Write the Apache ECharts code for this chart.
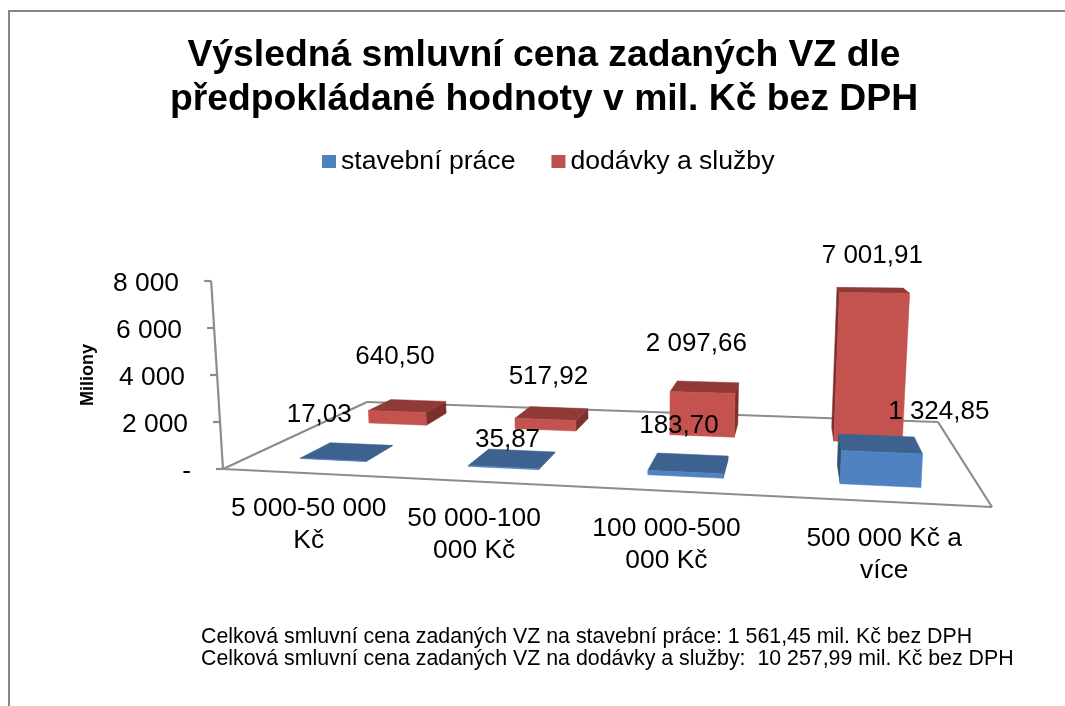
<!DOCTYPE html>
<html>
<head>
<meta charset="utf-8">
<style>html,body{margin:0;padding:0;background:#fff}#main{width:1065px;height:706px}</style>
<script src="https://cdn.jsdelivr.net/npm/echarts@6/dist/echarts.min.js"></script>
</head>
<body>
<div id="main"></div>
<script>
var titleText = 'Výsledná smluvní cena zadaných VZ dle\npředpokládané hodnoty v mil. Kč bez DPH';
var categories = ['5 000-50 000\nKč', '50 000-100\n000 Kč', '100 000-500\n000 Kč', '500 000 Kč a\nvíce'];
var stavebniPrace = [17.03, 35.87, 183.70, 1324.85];
var dodavkySluzby = [640.50, 517.92, 2097.66, 7001.91];
var stavebniLabels = ['17,03', '35,87', '183,70', '1 324,85'];
var dodavkyLabels = ['640,50', '517,92', '2 097,66', '7 001,91'];
var tickLabels = ['-', '2 000', '4 000', '6 000', '8 000'];
var footerLines = [
  'Celková smluvní cena zadaných VZ na stavební práce: 1 561,45 mil. Kč bez DPH',
  'Celková smluvní cena zadaných VZ na dodávky a služby:  10 257,99 mil. Kč bez DPH'
];

// podlaha grafu v perspektive: predni levy, predni pravy, zadni pravy, zadni levy roh
var FLOOR = [[223, 469], [992, 507], [938, 422], [367, 402]];
var FONT = '"Liberation Sans", Arial, sans-serif';
var LINE = '#8c8c8c';

// prevod (s,t) ze ctverce 0..1 na podlahu
var H = (function () {
  var p = FLOOR;
  var dx1 = p[1][0] - p[2][0], dx2 = p[3][0] - p[2][0], sx = p[0][0] - p[1][0] + p[2][0] - p[3][0];
  var dy1 = p[1][1] - p[2][1], dy2 = p[3][1] - p[2][1], sy = p[0][1] - p[1][1] + p[2][1] - p[3][1];
  var d = dx1 * dy2 - dx2 * dy1;
  var g = (sx * dy2 - dx2 * sy) / d, h = (dx1 * sy - sx * dy1) / d;
  return {
    a: p[1][0] - p[0][0] + g * p[1][0], b: p[3][0] - p[0][0] + h * p[3][0], c: p[0][0],
    d: p[1][1] - p[0][1] + g * p[1][1], e: p[3][1] - p[0][1] + h * p[3][1], f: p[0][1],
    g: g, h: h
  };
})();

function project(s, t) {
  var w = H.g * s + H.h * t + 1;
  return [(H.a * s + H.b * t + H.c) / w, (H.d * s + H.e * t + H.f) / w];
}

// svisle hrany se s vyskou rozbihaji a dozadu se zkracuji
function lean(s) { return -0.063 + 0.122 * s; }

function lift(s, t, h) {
  var p = project(s, t);
  var k = h / (H.g * s + H.h * t + 1);
  return [p[0] + lean(s) * k, p[1] - k];
}

function quad(points, color) {
  return { type: 'polygon', shape: { points: points }, style: { fill: color, stroke: color, lineWidth: 0.5 } };
}

function segment(a, b) {
  return { type: 'line', shape: { x1: a[0], y1: a[1], x2: b[0], y2: b[1] }, style: { stroke: LINE, lineWidth: 2.2 } };
}

function frameItem(params, api) {
  var children = [
    segment(FLOOR[0], FLOOR[1]), segment(FLOOR[1], FLOOR[2]),
    segment(FLOOR[2], FLOOR[3]), segment(FLOOR[3], FLOOR[0])
  ];
  var zero = api.coord([0, 0])[1];
  var top = lift(0, 0, zero - api.coord([0, 8000])[1]);
  children.push(segment(FLOOR[0], top));
  for (var v = 0; v <= 8000; v += 2000) {
    var q = lift(0, 0, zero - api.coord([0, v])[1]);
    children.push(segment([q[0] - 7, q[1]], q));
  }
  return { type: 'group', children: children };
}

var categoryLabelShift = [[1, 42], [-12, 43], [-11, 43], [1, 43]];

function categoryItem(params, api) {
  var i = api.value(0);
  var p = project((i + 0.5) / 4, 0);
  var d = categoryLabelShift[i];
  return {
    type: 'text',
    style: {
      x: p[0] + d[0], y: p[1] + d[1] - 22,
      text: categories[i], fill: '#000', font: '26.4px ' + FONT,
      textAlign: 'center', textVerticalAlign: 'top', lineHeight: 32
    }
  };
}

function boxRenderer(box, labels, shift) {
  return function (params, api) {
    var i = api.value(0);
    var h = api.coord([i, 0])[1] - api.coord([i, api.value(1)])[1];
    var s0 = box.start + box.step * i, s1 = s0 + box.width;
    var fl = lift(s0, box.front, 0), fr = lift(s1, box.front, 0);
    var tfl = lift(s0, box.front, h), tfr = lift(s1, box.front, h);
    var tbl = lift(s0, box.back, h), tbr = lift(s1, box.back, h);
    var bl = lift(s0, box.back, 0), br = lift(s1, box.back, 0);
    var children = [];
    if (tbr[0] > tfr[0]) children.push(quad([fr, br, tbr, tfr], box.side));
    if (tbl[0] < tfl[0]) children.push(quad([fl, bl, tbl, tfl], box.side));
    children.push(quad([tfl, tfr, tbr, tbl], box.top));
    children.push(quad([fl, fr, tfr, tfl], box.face));
    var d = shift[i];
    children.push({
      type: 'text', z2: 10,
      style: {
        x: (tfl[0] + tbr[0]) / 2 + d[0], y: (tfl[1] + tbr[1]) / 2 + d[1],
        text: labels[i], fill: '#000', font: '26px ' + FONT,
        textAlign: 'center', textVerticalAlign: 'middle'
      }
    });
    return { type: 'group', children: children };
  };
}

var redBox = { start: 0.077, step: 0.25, width: 0.1, front: 0.65, back: 0.85, face: '#c4524f', top: '#8f3a37', side: '#7c2f2d' };
var blueBox = { start: 0.077, step: 0.25, width: 0.1, front: 0.15, back: 0.35, face: '#4f82c1', top: '#3d628f', side: '#2f4f75' };
var redLabelShift = [[-12, -49], [-3, -37], [-8, -43], [1, -34]];
var blueLabelShift = [[-27, -37], [-4, -19], [-9, -37], [61, -32]];

function indexed(values) {
  return values.map(function (v, i) { return [i, v]; });
}

// popisky osy jsou podle naklonene osy kazdy jinak odsazene
var tickRich = {};
tickLabels.forEach(function (t, i) {
  tickRich['t' + i] = { fontFamily: 'Liberation Sans', fontSize: 26.4, color: '#000', padding: [6, 3 * i, 0, 0] };
});

var chart = echarts.init(document.getElementById('main'));
chart.setOption({
  animation: false,
  backgroundColor: '#fff',
  title: {
    text: titleText, left: 539, top: 29, textAlign: 'center',
    textStyle: { fontFamily: 'Liberation Sans', fontSize: 37.3, fontWeight: 'bold', color: '#000', lineHeight: 44 }
  },
  legend: {
    left: 317, top: 143, itemWidth: 14, itemHeight: 13, itemGap: 36, icon: 'rect',
    data: ['stavební práce', 'dodávky a služby'],
    textStyle: { fontFamily: 'Liberation Sans', fontSize: 26.6, color: '#000' }
  },
  grid: { left: 223, right: 73, top: 281, bottom: 237 },
  xAxis: { type: 'category', data: categories, show: false },
  yAxis: {
    type: 'value', min: 0, max: 8000, interval: 2000,
    name: 'Miliony', nameLocation: 'middle', nameGap: 126, nameRotate: 90,
    nameTextStyle: { fontFamily: 'Liberation Sans', fontSize: 18, fontWeight: 'bold', color: '#000' },
    axisLine: { show: false }, axisTick: { show: false }, splitLine: { show: false },
    axisLabel: {
      margin: 32, rich: tickRich,
      formatter: function (v) { var i = v / 2000; return '{t' + i + '|' + tickLabels[i] + '}'; }
    }
  },
  series: [
    { name: 'osa', type: 'custom', silent: true, clip: false, renderItem: frameItem, data: [[0, 0]] },
    { name: 'kategorie', type: 'custom', silent: true, clip: false, renderItem: categoryItem, data: indexed([0, 0, 0, 0]) },
    { name: 'dodávky a služby', type: 'custom', clip: false, itemStyle: { color: '#c0504d' }, renderItem: boxRenderer(redBox, dodavkyLabels, redLabelShift), data: indexed(dodavkySluzby) },
    { name: 'stavební práce', type: 'custom', clip: false, itemStyle: { color: '#4f81bd' }, renderItem: boxRenderer(blueBox, stavebniLabels, blueLabelShift), data: indexed(stavebniPrace) }
  ],
  graphic: [
    { type: 'polyline', shape: { points: [[9, 706], [9, 11], [1065, 11]] }, style: { stroke: '#868686', lineWidth: 2, fill: null } },
    { type: 'text', left: 201, top: 627, style: { text: footerLines[0], fill: '#000', font: '21.35px ' + FONT } },
    { type: 'text', left: 201, top: 649, style: { text: footerLines[1], fill: '#000', font: '21.35px ' + FONT } }
  ]
});
</script>
</body>
</html>
